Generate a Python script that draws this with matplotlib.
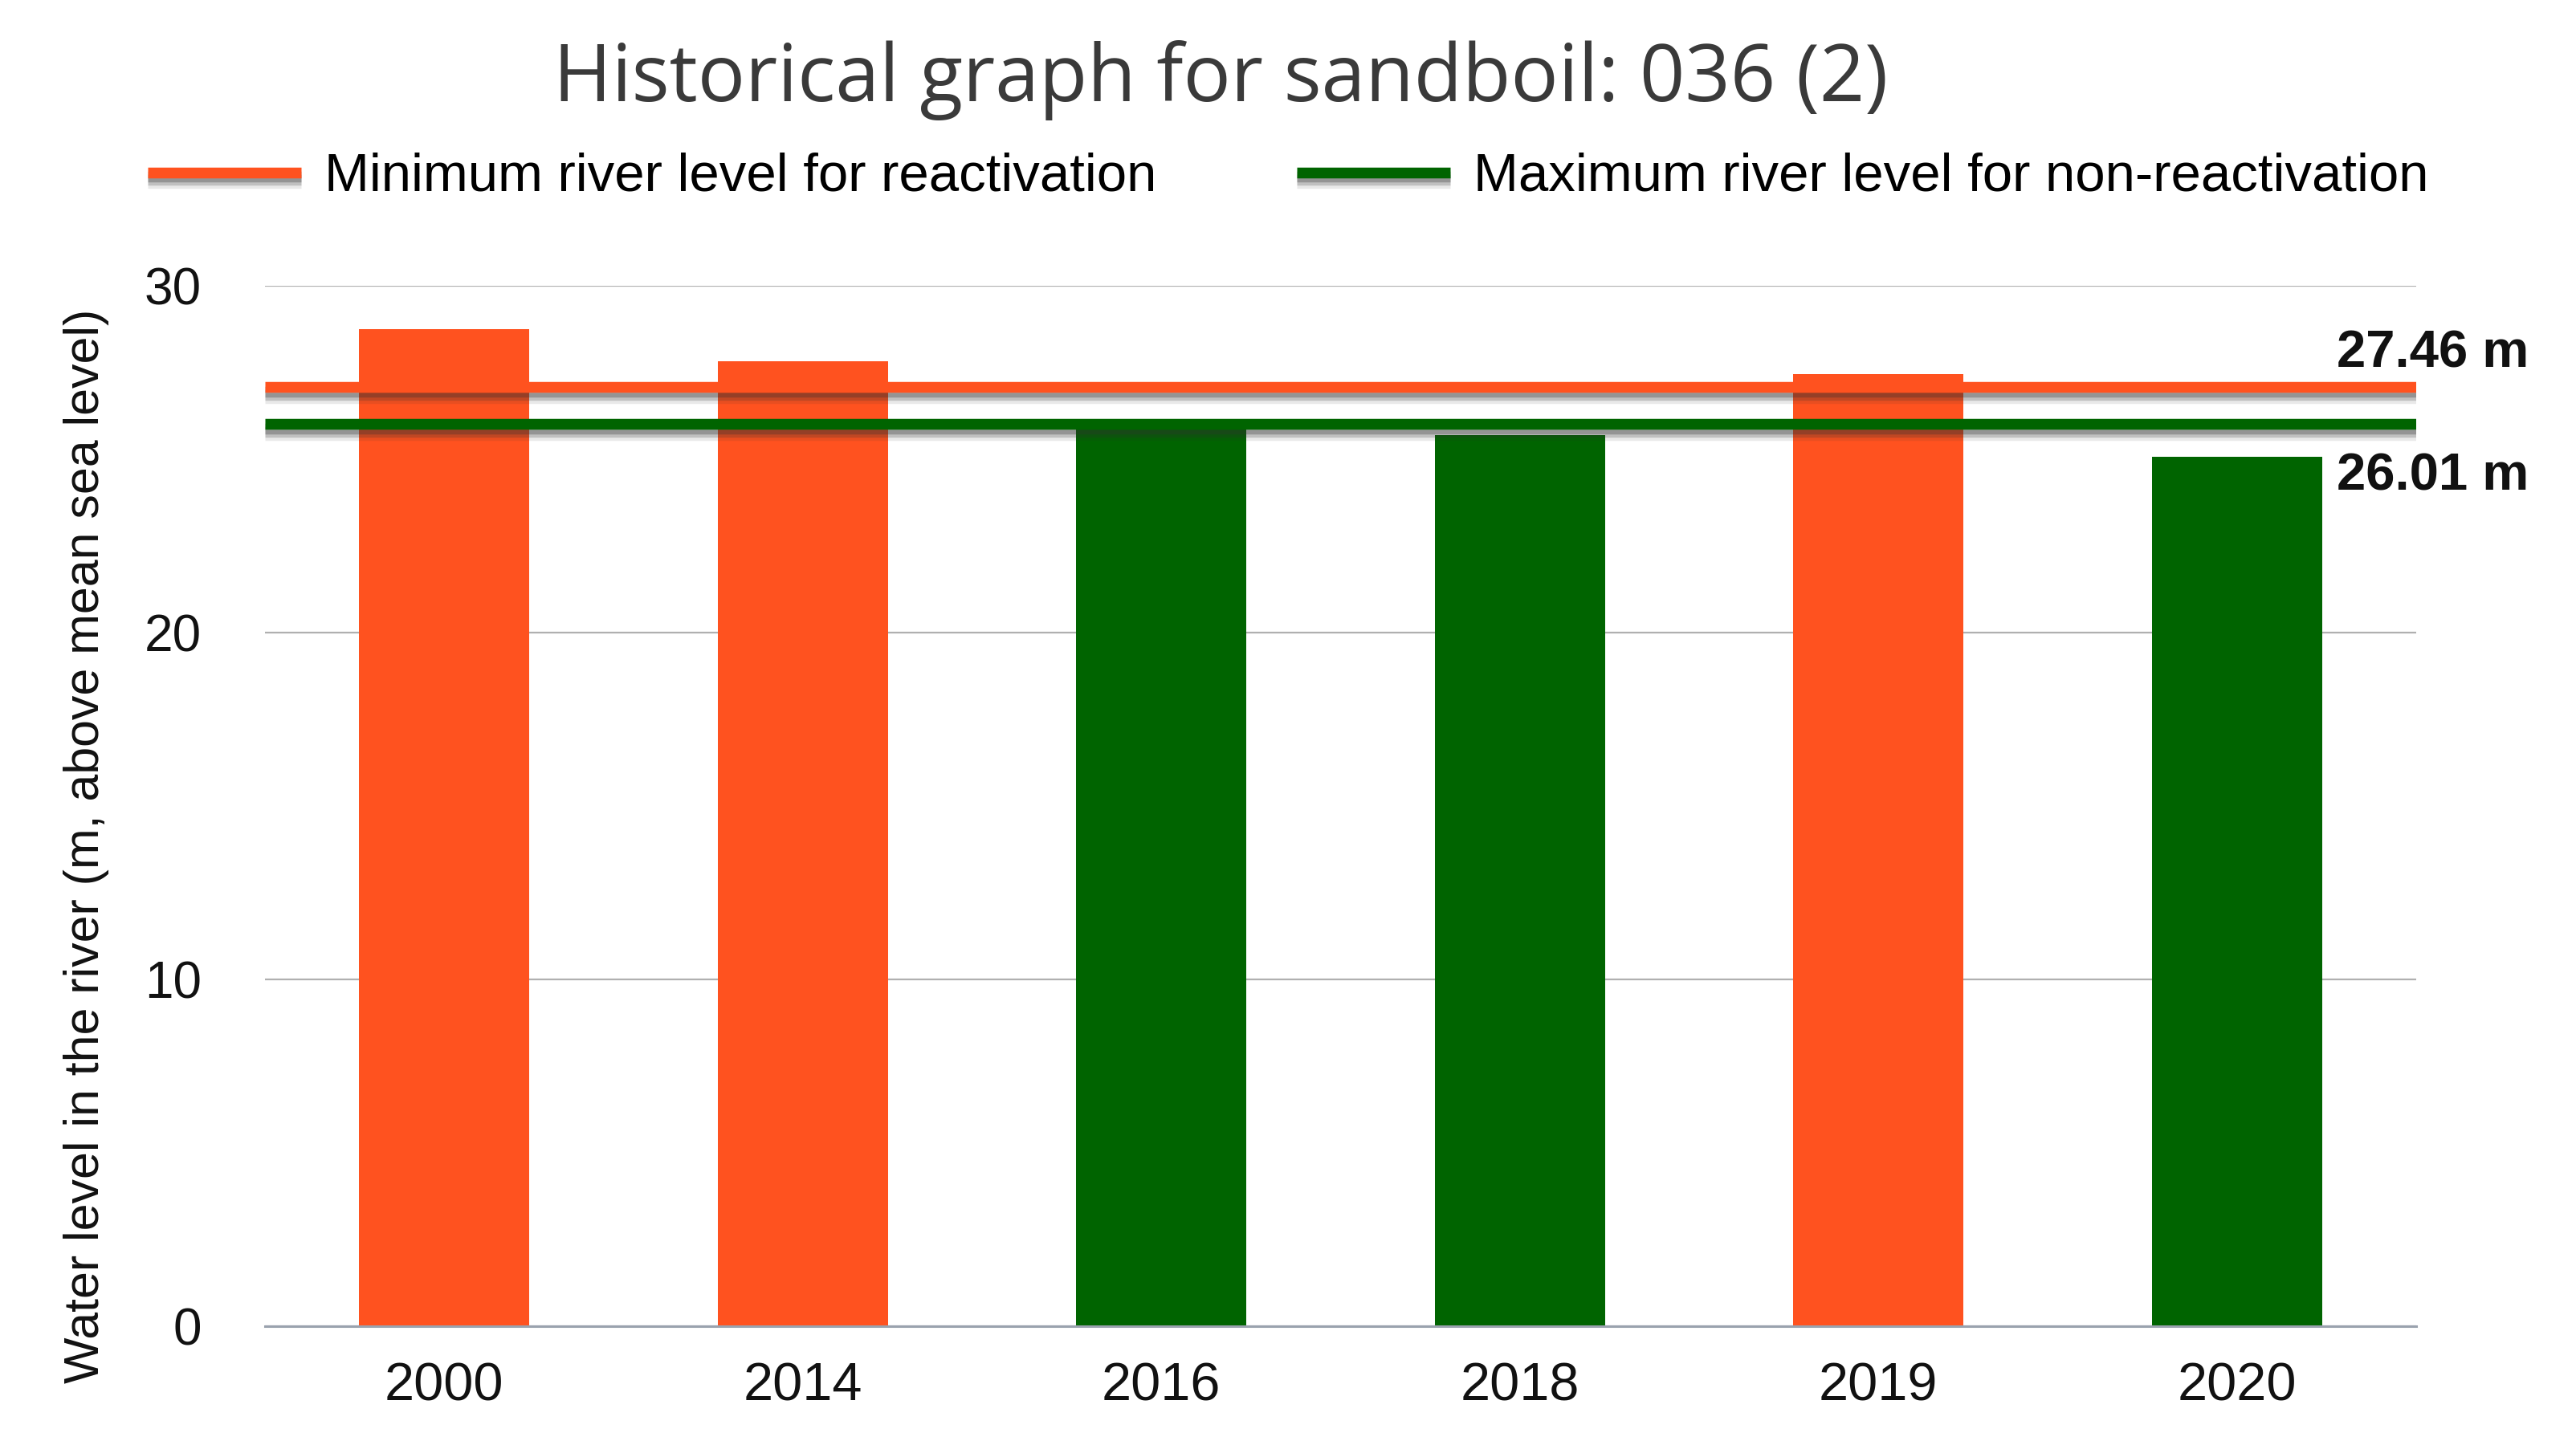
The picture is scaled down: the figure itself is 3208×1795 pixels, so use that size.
import matplotlib
matplotlib.use("Agg")
import matplotlib.pyplot as plt
import matplotlib.patheffects as pe
import matplotlib.transforms as mtrans
from matplotlib.lines import Line2D
import numpy as np

# ---- data ----
years = ["2000", "2014", "2016", "2018", "2019", "2020"]
levels = [28.75, 27.82, 26.0, 25.69, 27.46, 25.07]
reactivated = [True, True, False, False, True, False]
min_react_line = 27.08     # drawn position of the reactivation threshold line
max_nonreact_line = 26.01  # drawn position of the non-reactivation line
min_react_label = "27.46 m"
max_nonreact_label = "26.01 m"
yticks = [0, 10, 20, 30]

ORANGE = "#FF521F"
GREEN = "#006400"

W, H = 3208, 1795
fig = plt.figure(figsize=(W / 100, H / 100), dpi=100)
ax = fig.add_axes([330 / W, 1 - 1652 / H, (3009 - 330) / W, (1652 - 356) / H])

x = np.arange(len(years))
colors = [ORANGE if r else GREEN for r in reactivated]
ax.bar(x, levels, width=0.474, color=colors, zorder=2)


def shadow_fx():
    return [pe.SimpleLineShadow(offset=(0, -4), shadow_color="#303030", alpha=0.30),
            pe.SimpleLineShadow(offset=(0, -7), shadow_color="#303030", alpha=0.22),
            pe.SimpleLineShadow(offset=(0, -10), shadow_color="#303030", alpha=0.10),
            pe.Normal()]


ax.axhline(min_react_line, color=ORANGE, lw=9.7, zorder=4, path_effects=shadow_fx(),
           solid_capstyle="butt")
ax.axhline(max_nonreact_line, color=GREEN, lw=9.7, zorder=4, path_effects=shadow_fx(),
           solid_capstyle="butt")

ax.set_xlim(-0.5, len(years) - 0.5)
ax.set_ylim(0, 30)
ax.set_yticks(yticks)
ax.set_xticks(x)
ax.set_xticklabels(years)
ax.yaxis.grid(True, color="#b0b0b0", lw=1.6, zorder=0)
ax.set_axisbelow(True)
for s in ["top", "right", "left"]:
    ax.spines[s].set_visible(False)
ax.spines["bottom"].set_color("#9aa2ae")
ax.spines["bottom"].set_linewidth(2.2)
ax.spines["bottom"].set_zorder(3)
ax.tick_params(axis="both", length=0)
ax.tick_params(axis="x", pad=32, labelsize=48)
ax.tick_params(axis="y", pad=57, labelsize=46)
for lab in ax.get_xticklabels() + ax.get_yticklabels():
    lab.set_fontfamily("Liberation Sans")
    lab.set_color("#111111")

# value labels
tr = mtrans.blended_transform_factory(ax.transAxes, ax.transData)
ax.text(0.963, 28.05, min_react_label, transform=tr, ha="left", va="center",
        fontsize=47, fontweight="bold", family="Liberation Sans", color="#111111",
        clip_on=False)
ax.text(0.963, 24.5, max_nonreact_label, transform=tr, ha="left", va="center",
        fontsize=47, fontweight="bold", family="Liberation Sans", color="#111111",
        clip_on=False)

# title
fig.text(1520 / W, 1 - 100 / H, "Historical graph for sandboil: 036 (2)", ha="center",
         va="center", fontsize=71, family="Open Sans", color="#3a3a3a")

# y label
fig.text(108 / W, 1 - 1054 / H, "Water level in the river (m, above mean sea level)",
         rotation=90, ha="center", va="center", fontsize=43.8, family="Liberation Sans",
         color="#111111")

# legend
handles = [Line2D([], [], color=ORANGE, lw=9.7, path_effects=shadow_fx(), solid_capstyle="butt"),
           Line2D([], [], color=GREEN, lw=9.7, path_effects=shadow_fx(), solid_capstyle="butt")]
labels = ["Minimum river level for reactivation", "Maximum river level for non-reactivation"]
fig.legend(handles, labels, loc="center left", bbox_to_anchor=(184 / W, 1 - 221 / H),
           ncol=2, frameon=False, prop={"family": "Liberation Sans", "size": 48.3},
           handlelength=2.85, handletextpad=0.43, columnspacing=2.6, borderpad=0,
           borderaxespad=0)

fig.savefig("out.png", dpi=100, facecolor="white")
